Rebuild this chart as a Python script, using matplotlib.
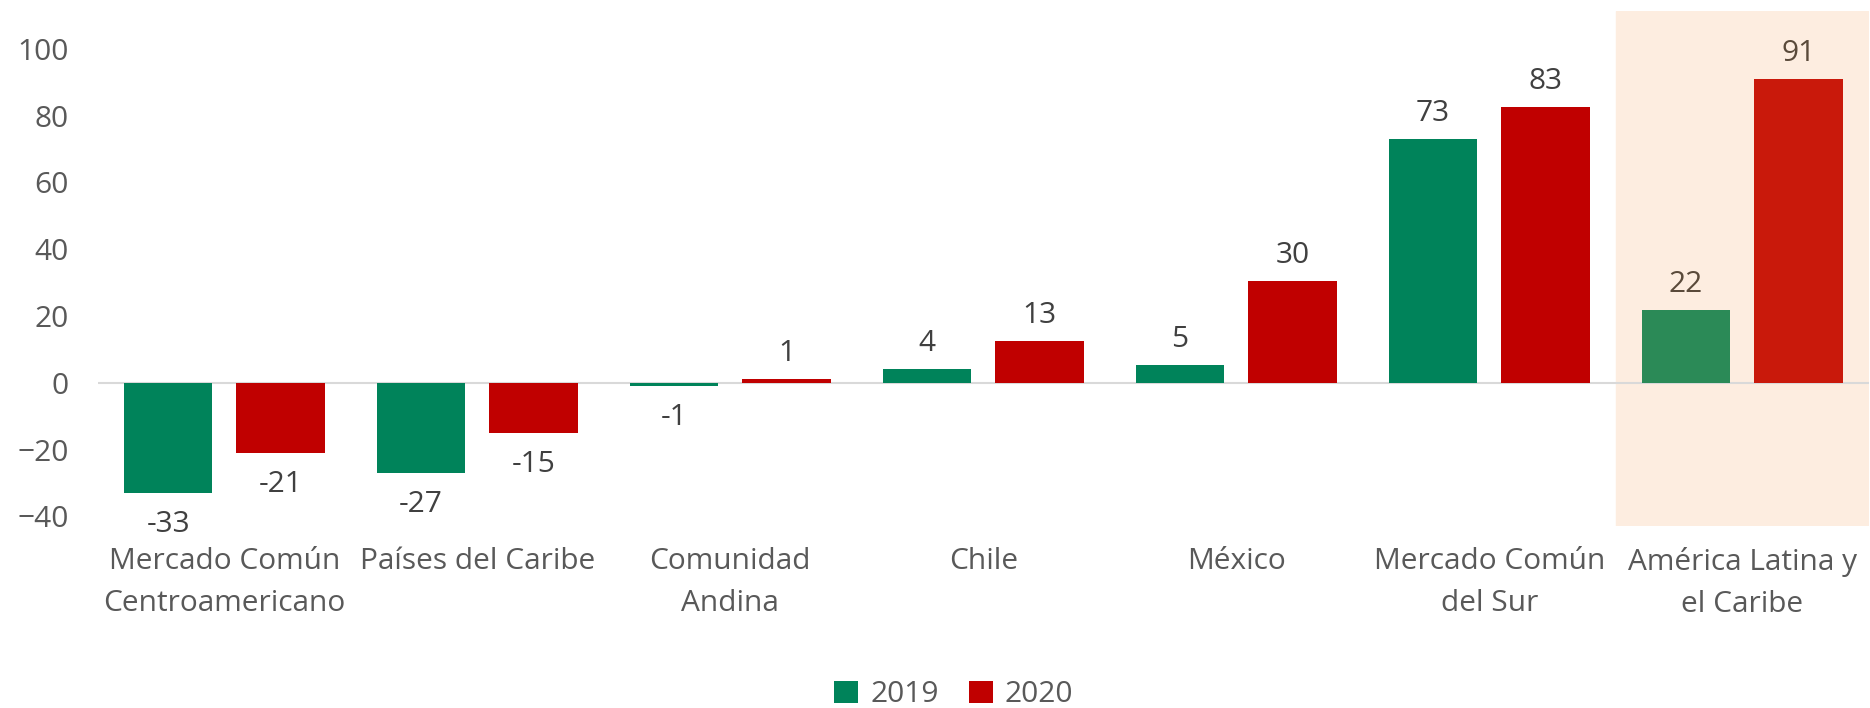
import matplotlib.pyplot as plt
import numpy as np

plt.rcParams["font.family"] = ["Open Sans", "DejaVu Sans"]

categories = ["Mercado Común\nCentroamericano", "Países del Caribe",
              "Comunidad\nAndina", "Chile", "México",
              "Mercado Común\ndel Sur", "América Latina y\nel Caribe"]
values_2019 = [-33, -27, -1, 4, 5.3, 73, 21.8]
values_2020 = [-21, -15, 1, 12.6, 30.4, 82.6, 90.8]
years = ["2019", "2020"]

green = "#00835A"
red = "#C00000"
green_hl = "#2B8A57"
red_hl = "#C9190B"

fig = plt.figure(figsize=(18.7, 7.08), dpi=100)
ax = fig.add_axes([0.0523, 0.257, 0.947, 0.728])

x = np.arange(len(categories))
off = 0.222
w = 0.35
c19 = [green] * 6 + [green_hl]
c20 = [red] * 6 + [red_hl]
b1 = ax.bar(x - off, values_2019, w, color=c19, label=years[0], zorder=2)
b2 = ax.bar(x + off, values_2020, w, color=c20, label=years[1], zorder=2)

ax.axvspan(5.5, 6.5, color="#FDEDE0", zorder=0)
ax.axhline(0, color="#D9D9D9", lw=1.5, zorder=1)

fs = 21.5
for bars in (b1, b2):
    for i, rect in enumerate(bars):
        v = rect.get_height() if rect.get_y() >= 0 else rect.get_y()
        col = "#5A4A3A" if i == 6 else "#404040"
        if v >= 0:
            ax.annotate(f"{v:.0f}", (rect.get_x() + rect.get_width() / 2, v),
                        xytext=(0, 8), textcoords="offset points",
                        ha="center", va="bottom", fontsize=fs, color=col)
        else:
            ax.annotate(f"{v:.0f}", (rect.get_x() + rect.get_width() / 2, v),
                        xytext=(0, -12), textcoords="offset points",
                        ha="center", va="top", fontsize=fs, color=col)

ax.set_xlim(-0.5, 6.5)
ax.set_ylim(-42.9, 111.4)
ax.set_yticks(range(-40, 101, 20))
ax.set_xticks(x)
ax.set_xticklabels(categories, linespacing=1.6)
ax.tick_params(axis="y", length=0, pad=21, labelsize=fs, labelcolor="#595959")
ax.tick_params(axis="x", length=0, pad=15, labelsize=fs, labelcolor="#595959")
for s in ax.spines.values():
    s.set_visible(False)

fig.legend(loc="lower center", bbox_to_anchor=(0.51, -0.04), ncol=2,
           frameon=False, fontsize=fs, labelcolor="#595959",
           handlelength=0.8, handleheight=0.8, handletextpad=0.4,
           columnspacing=1.0)

fig.savefig("out.png", dpi=100)
